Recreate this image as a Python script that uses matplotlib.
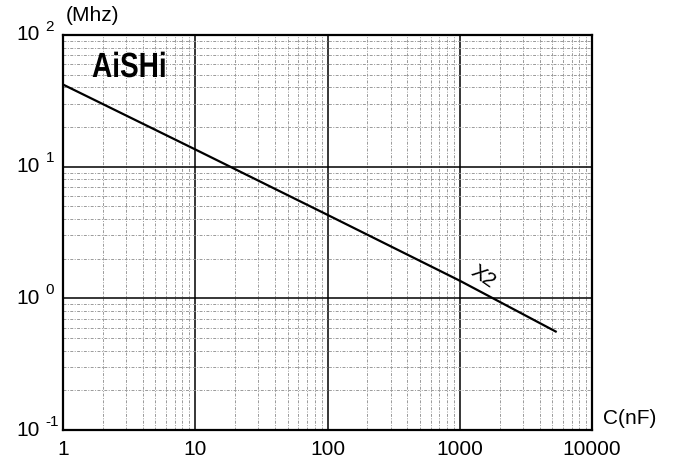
import numpy as np
import matplotlib.pyplot as plt
from matplotlib.ticker import LogLocator, FixedLocator, NullFormatter
from matplotlib.textpath import TextPath
from matplotlib.font_manager import FontProperties
from matplotlib.patches import PathPatch
from matplotlib.transforms import Affine2D

plt.rcParams['font.family'] = ['Liberation Sans', 'DejaVu Sans']

# curve: capacitance (nF) vs frequency (MHz)
cap_nf = [1, 10, 100, 1000, 5300]
freq_mhz = [42, 13.5, 4.3, 1.36, 0.56]

x_ticks = [1, 10, 100, 1000, 10000]
x_labels = ['1', '10', '100', '1000', '10000']
y_ticks = [0.1, 1, 10, 100]
y_exps = ['-1', '0', '1', '2']

fig = plt.figure(figsize=(6.75, 4.59), dpi=100)
ax = fig.add_axes([0.0933, 0.063, 0.784, 0.861])

ax.set_xscale('log')
ax.set_yscale('log')
ax.set_xlim(1, 10000)
ax.set_ylim(0.1, 100)

ax.plot(cap_nf, freq_mhz, color='black', lw=1.6)

ax.xaxis.set_major_locator(FixedLocator(x_ticks))
ax.yaxis.set_major_locator(FixedLocator(y_ticks))
ax.xaxis.set_minor_locator(LogLocator(base=10, subs=np.arange(2, 10)))
ax.yaxis.set_minor_locator(LogLocator(base=10, subs=np.arange(2, 10)))
ax.set_xticklabels(x_labels)
ax.yaxis.set_major_formatter(NullFormatter())
ax.xaxis.set_minor_formatter(NullFormatter())
ax.yaxis.set_minor_formatter(NullFormatter())
ax.tick_params(which='both', length=0, labelsize=15, pad=7)

# y labels drawn as "10" plus a small raised exponent
ytrans = ax.get_yaxis_transform()
for yv, ex in zip(y_ticks, y_exps):
    ax.text(-0.044, yv, '10', transform=ytrans, fontsize=15, ha='right', va='center')
    ax.annotate(ex, xy=(-0.033, yv), xycoords=ytrans, xytext=(0, 6),
                textcoords='offset points', fontsize=11, ha='left', va='center')

ax.grid(which='major', color='black', lw=1.1)
ax.grid(which='minor', color='#9a9a9a', lw=0.7, ls=(0, (3, 1.5, 1, 1.5)))
ax.set_axisbelow(True)
for s in ax.spines.values():
    s.set_linewidth(1.6)

# condensed bold logo (no narrow font installed, so squeeze a text path)
logo = TextPath((0, 0), 'AiSHi', size=1,
                prop=FontProperties(family='Liberation Sans', weight='bold'))
logo_tr = Affine2D().scale(28, 35).translate(92, 459 - 77)
fig.add_artist(PathPatch(logo, transform=logo_tr, color='black', lw=0))

ax.text(1490, 1.45, 'X2', fontsize=15, rotation=-35, ha='center', va='center',
        rotation_mode='anchor')

fig.text(0.097, 0.967, '(Mhz)', fontsize=15, ha='left', va='center')
fig.text(0.893, 0.089, 'C(nF)', fontsize=15, ha='left', va='center')

fig.savefig('out.png', dpi=100)
